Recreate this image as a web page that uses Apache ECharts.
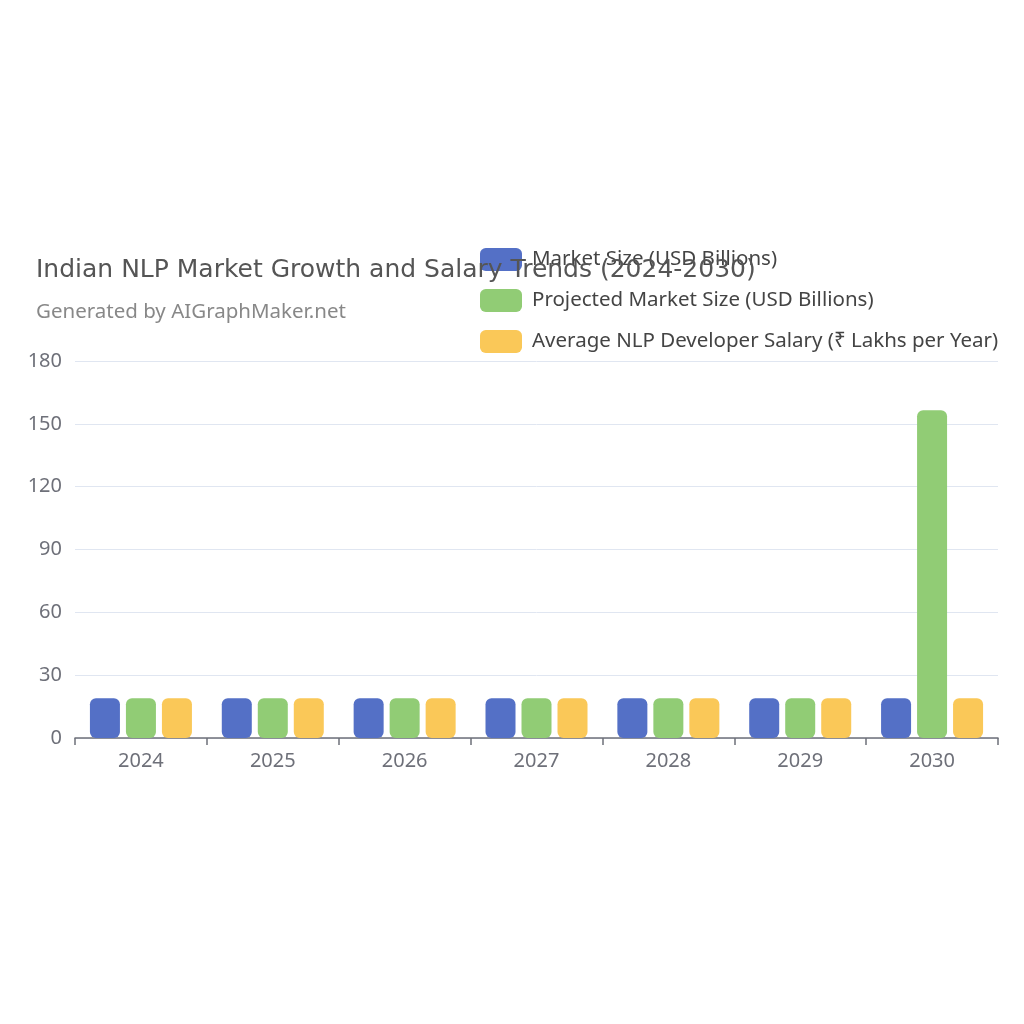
<!DOCTYPE html>
<html><head><meta charset="utf-8">
<script src="https://cdn.jsdelivr.net/npm/echarts@6/dist/echarts.min.js"></script>
<style>html,body{margin:0;padding:0;background:#fff}#c{width:1024px;height:1024px}</style>
</head><body><div id="c"></div>
<script>
const categories = ['2024','2025','2026','2027','2028','2029','2030'];
const marketSize = [19, 19, 19, 19, 19, 19, 19];
const projectedMarket = [19, 19, 19, 19, 19, 19, 156.5];
const salary = [19, 19, 19, 19, 19, 19, 19];
const seriesNames = ['Market Size (USD Billions)','Projected Market Size (USD Billions)','Average NLP Developer Salary (₹ Lakhs per Year)'];
const yTicks = {min: 0, max: 180, interval: 30};

const chart = echarts.init(document.getElementById('c'));
const barStyle = {borderRadius: 6};
chart.setOption({
  color: ['#5470c6','#91cc75','#fac858'],
  title: {
    text: 'Indian NLP Market Growth and Salary Trends (2024-2030)',
    subtext: 'Generated by AIGraphMaker.net',
    left: 31, top: 253,
    textStyle: {fontSize: 25, fontWeight: 'normal', color: '#555', fontFamily: 'DejaVu Sans'},
    subtextStyle: {fontSize: 20.5, color: '#888', fontFamily: 'Noto Sans'},
    itemGap: 19
  },
  legend: {
    orient: 'vertical', left: 475, top: 243,
    itemWidth: 42, itemHeight: 23, itemGap: 18,
    textStyle: {fontSize: 20.5, color: '#444', fontFamily: 'Noto Sans', padding: [0, 0, 0, 5]},
    data: seriesNames
  },
  grid: {left: 75, right: 26, top: 361, bottom: 286, containLabel: false},
  xAxis: {
    type: 'category', data: categories,
    axisLine: {lineStyle: {color: '#6E7079', width: 1.5}},
    axisTick: {show: true, lineStyle: {color: '#6E7079', width: 1.5}, length: 7},
    axisLabel: {fontSize: 20, color: '#6E7079', margin: 13, fontFamily: 'Noto Sans'}
  },
  yAxis: {
    type: 'value', min: yTicks.min, max: yTicks.max, interval: yTicks.interval,
    axisLabel: {fontSize: 20, color: '#6E7079', margin: 13, fontFamily: 'Noto Sans'},
    splitLine: {lineStyle: {color: '#E0E6F1'}}
  },
  series: [
    {name: seriesNames[0], type: 'bar', data: marketSize, barWidth: 30, barGap: '20%', itemStyle: barStyle},
    {name: seriesNames[1], type: 'bar', data: projectedMarket, barWidth: 30, barGap: '20%', itemStyle: barStyle},
    {name: seriesNames[2], type: 'bar', data: salary, barWidth: 30, barGap: '20%', itemStyle: barStyle}
  ]
});
</script></body></html>
